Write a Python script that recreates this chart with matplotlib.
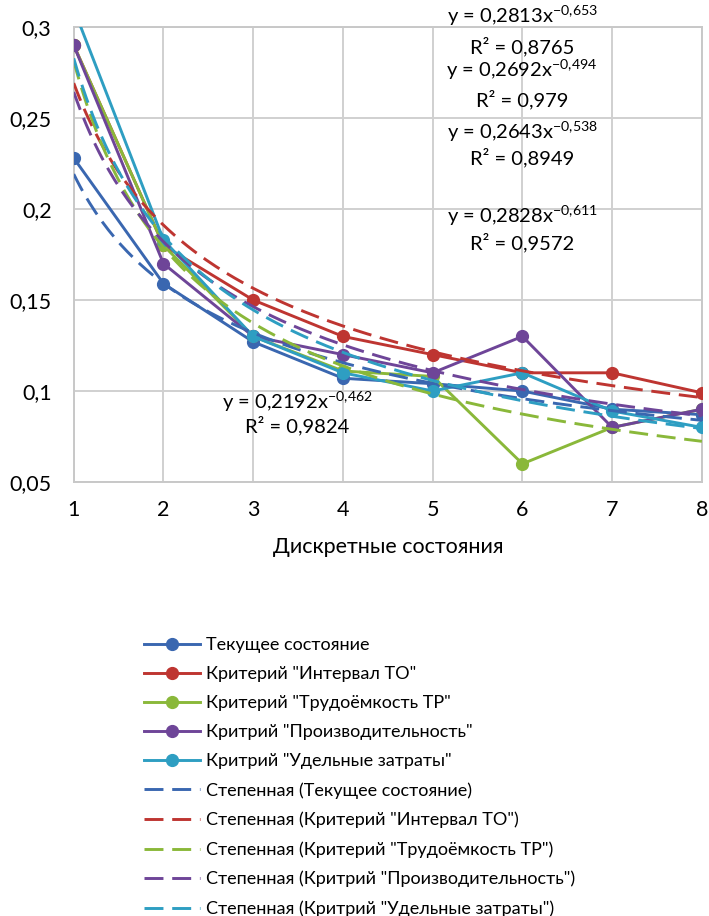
import numpy as np
import matplotlib
matplotlib.use("Agg")
import matplotlib.pyplot as plt

plt.rcParams['font.family'] = ['Lato', 'DejaVu Sans']
plt.rcParams['mathtext.default'] = 'regular'

# данные
x = [1, 2, 3, 4, 5, 6, 7, 8]
names = ['Текущее состояние', 'Критерий "Интервал ТО"', 'Критерий "Трудоёмкость ТР"',
         'Критрий "Производительность"', 'Критрий "Удельные затраты"']
tekushee = [0.228, 0.159, 0.127, 0.107, 0.104, 0.100, 0.090, 0.087]
interval = [0.290, 0.180, 0.150, 0.130, 0.120, 0.110, 0.110, 0.099]
trudoemk = [0.290, 0.180, 0.130, 0.111, 0.108, 0.060, 0.080, 0.090]
proizv = [0.290, 0.170, 0.130, 0.120, 0.110, 0.130, 0.080, 0.090]
zatraty = [0.310, 0.183, 0.130, 0.110, 0.100, 0.110, 0.089, 0.080]
series = [tekushee, interval, trudoemk, proizv, zatraty]

# степенные линии тренда (коэффициенты из подписей)
coef_a = [0.2192, 0.2692, 0.2813, 0.2643, 0.2828]
coef_b = [-0.462, -0.494, -0.653, -0.538, -0.611]
r2 = ['0,9824', '0,979', '0,8765', '0,8949', '0,9572']

colors = ['#3A67B0', '#BE3531', '#8AB83A', '#6E4598', '#2E9EC2']

fig = plt.figure(figsize=(7.09, 9.16), dpi=100)
ax = fig.add_axes([0.104, 0.4738, 0.886, 0.4967])

handles = []
for s, c, n in zip(series, colors, names):
    h, = ax.plot(x, s, color=c, lw=2.1, marker='o', ms=8.5, label=n, zorder=3)
    handles.append(h)

xx = np.linspace(1, 8, 200)
for a, b, c, n in zip(coef_a, coef_b, colors, names):
    h, = ax.plot(xx, a * xx ** b, color=c, lw=2.1, dashes=(6.5, 3),
                 label='Степенная (' + n + ')', zorder=4)
    handles.append(h)

ax.set_xlim(1, 8)
ax.set_ylim(0.05, 0.3)
ax.set_xticks(x)
ax.set_yticks([0.05, 0.1, 0.15, 0.2, 0.25, 0.3])
ax.set_yticklabels(['0,05', '0,1', '0,15', '0,2', '0,25', '0,3'])
ax.tick_params(length=0, labelsize=15.5)
ax.tick_params(axis='y', pad=16)
ax.tick_params(axis='x', pad=13)
ax.grid(True, color='#D0D0D0', lw=1.4)
for sp in ax.spines.values():
    sp.set_color('#C8C8C8')
    sp.set_linewidth(1.4)
ax.set_xlabel('Дискретные состояния', fontsize=15.5, labelpad=12)

def eq(a, b):
    sa = ('%.4f' % a).replace('.', ',')
    sb = ('%g' % b).replace('.', '{,}')
    return 'y = ' + sa + 'x$^{' + sb + '}$'

# подписи уравнений (позиции в пикселях рисунка)
lab_pos = [(297, 402, 297, 426), (522, 70, 522, 100), (522, 16, 522, 47),
           (522, 132, 522, 158), (522, 216, 522, 243)]
for i, p in enumerate(lab_pos):
    fig.text(p[0] / 709, 1 - p[1] / 916, eq(coef_a[i], coef_b[i]), ha='center', va='center', fontsize=14.5)
    fig.text(p[2] / 709, 1 - p[3] / 916, 'R² = ' + r2[i], ha='center', va='center', fontsize=14.5)

fig.legend(handles=handles, loc='upper left', bbox_to_anchor=(137 / 709, 1 - 630 / 916),
           frameon=False, fontsize=13, handlelength=3.1, labelspacing=0.72, handletextpad=0.33,
           borderaxespad=0)

fig.savefig('out.png', dpi=100)
